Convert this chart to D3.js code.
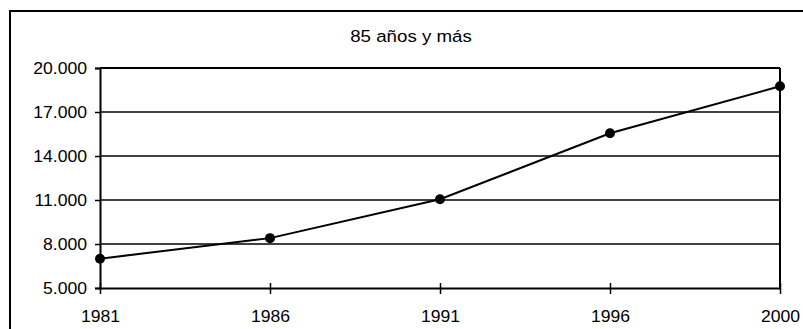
<!DOCTYPE html>
<html>
<head>
<meta charset="utf-8">
<script src="https://cdn.jsdelivr.net/npm/d3@7"></script>
<style>
  html, body { margin: 0; padding: 0; background: #fff; }
  svg { display: block; font-family: "Liberation Sans", Arial, sans-serif; }
</style>
</head>
<body>
<svg id="chart" width="803" height="329"></svg>
<script>
const title = "85 años y más";
const years = ["1981", "1986", "1991", "1996", "2000"];
const values = [7000, 8400, 11050, 15550, 18750];
const yTicks = [5000, 8000, 11000, 14000, 17000, 20000];

const svg = d3.select("#chart");
const pL = 100, pR = 780, pT = 68, pB = 288;
const sx = 1.1;

// outer border
svg.append("rect").attr("x", 10).attr("y", 11).attr("width", 800).attr("height", 330)
  .attr("fill", "none").attr("stroke", "#000").attr("stroke-width", 2);

// title
svg.append("text").attr("transform", `translate(411,41.5) scale(${sx},1)`)
  .attr("text-anchor", "middle").attr("font-size", 17).attr("fill", "#000").text(title);

const x = d3.scalePoint().domain(years).range([pL, pR]);
const y = d3.scaleLinear().domain([5000, 20000]).range([pB, pT]);

// gridlines
svg.append("g").selectAll("line").data(yTicks.filter(d => d > 5000 && d < 20000)).join("line")
  .attr("x1", pL).attr("x2", pR).attr("y1", d => y(d)).attr("y2", d => y(d))
  .attr("stroke", "#000").attr("stroke-width", 1.3);

// plot frame top and right
svg.append("line").attr("x1", pL).attr("x2", pR).attr("y1", pT).attr("y2", pT)
  .attr("stroke", "#000").attr("stroke-width", 2);
svg.append("line").attr("x1", pR).attr("x2", pR).attr("y1", pT).attr("y2", pB)
  .attr("stroke", "#000").attr("stroke-width", 2);

const fmt = d => d3.format(",")(d).replace(/,/g, ".");

// y axis
const yAxis = svg.append("g").attr("transform", `translate(${pL},0)`)
  .call(d3.axisLeft(y).tickValues(yTicks).tickFormat(fmt).tickSize(5).tickPadding(0));
yAxis.select(".domain").attr("stroke-width", 2);
yAxis.selectAll(".tick line").attr("stroke-width", 1.5);
yAxis.selectAll(".tick text").attr("x", 0)
  .attr("transform", `translate(-13,0) scale(${sx},1)`)
  .attr("font-size", 16).attr("font-family", "Liberation Sans, Arial, sans-serif").attr("fill", "#000");

// x axis
const xAxis = svg.append("g").attr("transform", `translate(0,${pB})`)
  .call(d3.axisBottom(x).tickSizeInner(6).tickSizeOuter(0).tickPadding(0));
xAxis.select(".domain").attr("stroke-width", 2);
xAxis.selectAll(".tick line").attr("y1", -5).attr("y2", 6).attr("stroke-width", 1.5);
xAxis.selectAll(".tick text").attr("y", 0).attr("dy", 0)
  .attr("transform", `translate(0,33.5) scale(${sx},1)`)
  .attr("font-size", 16).attr("font-family", "Liberation Sans, Arial, sans-serif").attr("fill", "#000");

// line
const data = years.map((yr, i) => ({ yr, v: values[i] }));
svg.append("path").datum(data)
  .attr("fill", "none").attr("stroke", "#000").attr("stroke-width", 2)
  .attr("d", d3.line().x(d => x(d.yr)).y(d => y(d.v)));

// markers
svg.append("g").selectAll("circle").data(data).join("circle")
  .attr("cx", d => x(d.yr)).attr("cy", d => y(d.v)).attr("r", 5).attr("fill", "#000");
</script>
</body>
</html>
